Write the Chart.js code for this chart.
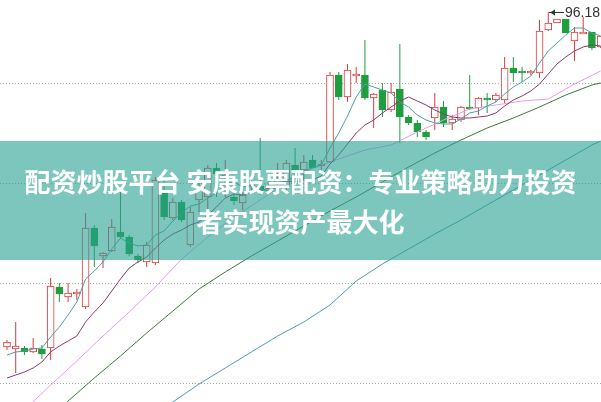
<!DOCTYPE html>
<html><head><meta charset="utf-8">
<script src="https://cdn.jsdelivr.net/npm/chart.js@4.4.0/dist/chart.umd.min.js"></script>
<style>
html,body{margin:0;padding:0;background:#fff;}
#wrap{position:relative;width:601px;height:402px;overflow:hidden;background:#fff;}
#c{position:absolute;left:0;top:0;}
#banner{position:absolute;left:0;top:141px;width:601px;height:119px;background:rgba(38,160,146,0.6);}
.ln{position:absolute;left:0;width:601px;text-align:center;color:#fff;font:bold 26px/26px "Noto Sans CJK SC",sans-serif;white-space:nowrap;}
</style></head>
<body>
<div id="wrap">
<canvas id="c" width="601" height="402"></canvas>
<div id="banner"><div class="ln" id="l1" style="top:27px"></div><div class="ln" id="l2" style="top:67px"></div></div>
</div>
<script>
// ---- data (prices) ----
const OPEN  = [62.68,62.48,62.58,62.18,62.48,62.58,68.68,67.68,67.98,66.68,74.58,71.78,72.28,74.18,73.68,71.78,71.18,71.08,78.08,75.58,77.18,72.88,77.38,77.68,80.58,79.68,77.68,77.08,78.68,78.78,78.68,79.08,78.68,80.88,80.38,81.38,80.78,81.18,89.88,87.68,89.78,89.88,87.58,88.38,86.38,88.48,85.68,85.08,84.18,85.58,86.68,85.08,85.38,86.68,86.58,87.58,87.38,87.38,90.58,90.28,90.08,90.08,94.38,95.08,95.48,93.28,93.98,94.18,92.68];
const HIGH  = [63.38,65.18,62.78,63.58,62.88,69.58,69.08,69.08,68.48,76.08,74.88,72.18,75.48,78.18,73.88,71.98,73.18,79.68,79.38,77.58,77.38,76.68,79.38,80.88,81.08,81.38,78.08,78.18,79.58,83.58,79.38,81.08,81.38,82.58,81.88,81.88,81.38,90.18,90.18,90.98,90.68,93.38,88.08,89.08,89.08,92.98,85.88,85.38,84.38,88.08,87.28,85.88,86.78,89.88,87.68,88.08,88.08,91.68,91.68,90.68,90.38,95.38,96.18,95.48,95.48,94.68,95.68,94.18,93.78];
const LOW   = [62.38,60.08,61.88,62.08,61.48,61.38,67.18,67.18,67.38,66.48,70.68,70.58,72.18,73.48,71.78,71.08,70.68,70.88,75.38,75.38,75.18,72.68,76.18,76.38,77.68,77.68,76.88,76.38,78.18,77.88,78.38,77.88,78.38,79.38,79.38,80.58,80.38,81.08,87.38,87.18,89.08,87.38,84.58,85.68,86.18,83.08,84.88,83.68,83.38,84.38,84.68,84.38,85.18,86.38,85.88,86.08,87.18,87.08,89.18,89.18,89.88,89.58,94.28,95.08,94.08,91.28,94.08,92.38,92.58];
const CLOSE = [63.18,62.78,62.18,62.58,61.98,68.78,67.98,68.08,68.18,74.58,72.78,72.08,74.68,73.68,71.98,71.38,72.88,79.38,75.68,77.18,75.38,76.18,78.38,80.58,79.98,79.88,77.28,77.88,78.88,78.38,78.88,79.58,81.08,80.38,81.18,80.58,80.98,89.88,87.68,90.38,89.98,87.58,87.98,86.38,88.18,85.68,85.08,84.18,83.68,86.68,85.08,85.48,86.68,86.48,87.58,87.38,87.88,90.58,90.08,90.08,90.28,94.28,95.08,95.48,94.08,94.18,94.18,92.58,93.78];

const MA5  = [61.88,62.18,62.28,62.48,62.58,63.68,64.68,65.88,67.18,69.48,70.28,71.18,72.48,73.58,73.08,72.78,72.88,73.88,74.28,75.28,76.08,76.78,76.98,77.58,78.08,78.98,79.18,78.68,78.78,78.48,78.28,78.68,79.38,79.68,80.28,80.58,80.88,82.58,84.08,85.78,87.68,88.98,88.68,88.38,88.08,87.18,86.68,85.88,85.38,85.08,84.98,84.98,85.48,86.08,86.28,86.78,87.18,87.98,88.68,89.18,89.78,91.08,92.28,93.08,93.88,94.58,94.58,94.08,93.78];
const MA10 = [59.58,59.88,60.18,60.58,61.18,62.18,62.78,63.28,63.78,65.18,66.18,67.08,68.28,69.48,70.58,71.18,71.68,72.58,73.38,73.98,74.38,74.88,75.18,75.88,76.68,77.58,77.98,77.88,78.18,78.28,78.58,78.98,79.28,79.18,79.38,79.38,79.78,80.98,81.88,82.98,84.08,84.88,85.38,86.08,86.68,87.28,87.68,87.28,86.88,86.38,85.98,85.68,85.58,85.58,85.68,85.78,86.08,86.78,87.38,87.78,88.28,88.98,89.98,90.98,91.68,92.28,92.68,92.88,92.78];
const MA20_AT = [2,5,8,11,14,17,20,23,26,29,32,35,38,41,44,47,50,53,56,59,62,65,68];
const MA20 = [56.38,58.88,61.28,63.78,66.18,68.68,71.48,73.68,75.68,77.38,79.18,80.58,81.48,82.38,82.88,84.18,85.38,86.48,86.88,87.28,87.48,88.98,90.28];
const MA30_AT = [5,7,10,13,16,19,22,25,28,31,34,37,40,43,46,49,52,55,58,61,64,67,68];
const MA30 = [55.58,57.28,59.58,61.78,64.08,66.28,68.48,70.18,71.78,73.28,74.78,76.28,77.68,79.18,80.68,82.08,83.38,84.58,85.58,86.68,87.88,88.88,89.08];
const MA60_AT = [17,19,22,25,28,31,34,37,40,43,46,49,52,55,58,61,64,67,68];
const MA60 = [55.98,57.18,58.98,60.58,62.18,63.78,65.18,66.88,69.28,70.98,72.48,73.98,75.38,76.88,78.38,79.88,81.38,82.88,83.28];
const GRID_TICKS = [59.08,69.08,79.08,89.08];
const TITLE_LINES = ['配资炒股平台 安康股票配资：专业策略助力投资', '者实现资产最大化'];

// ---- styles ----
const RED = '#dc3a3a', GREEN = '#1f9e3f';
document.getElementById('l1').textContent = TITLE_LINES[0];
document.getElementById('l2').textContent = TITLE_LINES[1];

const IDX = CLOSE.map((_, i) => i);
const isUp = i => CLOSE[i] >= OPEN[i];
const pts = (xs, ys) => xs.map((x, k) => ({x: x, y: ys[k]}));
const lineDs = (data, color) => ({type: 'line', data: data, borderColor: color, borderWidth: 1, pointRadius: 0, tension: 0, fill: false, order: 1});

const maxLabel = {
  id: 'maxLabel',
  afterDatasetsDraw(chart) {
    const {ctx, scales: {x, y}} = chart;
    let mi = 0;
    HIGH.forEach((v, i) => { if (v > HIGH[mi]) mi = i; });
    const px = Math.round(x.getPixelForValue(mi));
    const py = Math.round(y.getPixelForValue(HIGH[mi])) + 0.5;
    ctx.save();
    ctx.strokeStyle = '#333'; ctx.fillStyle = '#333'; ctx.lineWidth = 1;
    ctx.beginPath(); ctx.moveTo(px + 1, py); ctx.lineTo(px + 16, py); ctx.stroke();
    ctx.beginPath(); ctx.moveTo(px + 2, py); ctx.lineTo(px + 7, py - 3); ctx.lineTo(px + 7, py + 3); ctx.closePath(); ctx.fill();
    ctx.font = '14px "Liberation Sans", Arial, sans-serif';
    ctx.textBaseline = 'middle'; ctx.textAlign = 'left';
    ctx.fillText(HIGH[mi].toFixed(2), px + 17, py + 1);
    ctx.restore();
  }
};

new Chart(document.getElementById('c'), {
  type: 'bar',
  data: {
    datasets: [
      lineDs(pts(IDX, MA5), '#48a2a6'),
      lineDs(pts(IDX, MA10), '#8a3a70'),
      lineDs(pts(MA20_AT, MA20), '#e59ee6'),
      lineDs(pts(MA30_AT, MA30), '#3a7a3a'),
      lineDs(pts(MA60_AT, MA60), '#4a9cb0'),
      {type: 'bar', data: IDX.map(i => ({x: i, y: [OPEN[i], CLOSE[i]]})),
       backgroundColor: c => isUp(c.dataIndex) ? '#ffffff' : GREEN,
       borderColor: c => isUp(c.dataIndex) ? RED : GREEN,
       borderWidth: 1, borderSkipped: false, barThickness: 7, grouped: false, order: 2},
      {type: 'bar', data: IDX.map(i => ({x: i, y: [LOW[i], HIGH[i]]})),
       backgroundColor: c => isUp(c.dataIndex) ? RED : GREEN,
       borderWidth: 0, barThickness: 1, grouped: false, inflateAmount: 0, order: 3}
    ]
  },
  options: {
    responsive: false, animation: false, devicePixelRatio: 1,
    layout: {padding: 0},
    plugins: {legend: {display: false}, tooltip: {enabled: false}},
    scales: {
      x: {type: 'linear', min: -0.80, max: 68.04, offset: false, display: false},
      y: {min: 57.18, max: 97.38, beginAtZero: false,
          afterBuildTicks: a => { a.ticks = GRID_TICKS.map(v => ({value: v})); },
          ticks: {display: false},
          grid: {color: '#a6a6a6', drawTicks: false, lineWidth: 1},
          border: {display: false, dash: [1, 2]}}
    }
  },
  plugins: [maxLabel]
});
</script>
</body></html>
